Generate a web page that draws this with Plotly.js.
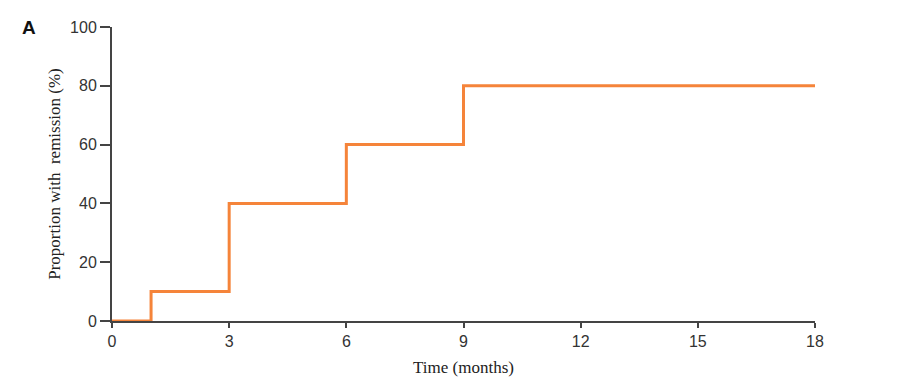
<!DOCTYPE html>
<html>
<head>
<meta charset="utf-8">
<script src="https://cdn.plot.ly/plotly-3.0.1.min.js"></script>
<style>html,body{margin:0;padding:0;background:#fff;}#chart{width:900px;height:377px;}</style>
</head>
<body>
<div id="chart"></div>
<script>
const timeMonths = [0, 1, 3, 6, 9, 18];
const remissionPct = [0, 10, 40, 60, 80, 80];
const xTicks = [0, 3, 6, 9, 12, 15, 18];
const yTicks = [0, 20, 40, 60, 80, 100];

const trace = {
  x: timeMonths,
  y: remissionPct,
  type: 'scatter',
  mode: 'lines',
  line: {shape: 'hv', color: '#F5843A', width: 3},
  hoverinfo: 'x+y'
};

const axisFont = {family: 'Arial, Liberation Sans, sans-serif', size: 16, color: '#333'};
const titleFont = {family: 'Liberation Serif, Times New Roman, serif', size: 17, color: '#222'};

const layout = {
  width: 900, height: 377,
  margin: {l: 112, r: 85, t: 27, b: 56},
  paper_bgcolor: '#fff', plot_bgcolor: '#fff',
  showlegend: false,
  xaxis: {
    range: [0, 18], tickvals: xTicks, ticktext: xTicks.map(String),
    showgrid: false, zeroline: false,
    showline: true, linecolor: '#444', linewidth: 2,
    ticks: 'outside', ticklen: 5, tickwidth: 2, tickcolor: '#444',
    tickfont: axisFont,
    title: {text: 'Time (months)', font: titleFont, standoff: 12}
  },
  yaxis: {
    range: [0, 100], tickvals: yTicks, ticktext: yTicks.map(String),
    showgrid: false, zeroline: false,
    showline: true, linecolor: '#444', linewidth: 2,
    ticks: 'outside', ticklen: 10, tickwidth: 2, tickcolor: '#444',
    tickfont: axisFont,
    title: {text: 'Proportion with  remission (%)', font: titleFont, standoff: 5}
  },
  annotations: [{
    text: '<b>A</b>', xref: 'paper', yref: 'paper',
    x: -0.131, y: 1.0, xanchor: 'left', yanchor: 'middle', showarrow: false,
    font: {family: 'Arial, Liberation Sans, sans-serif', size: 19, color: '#111'}
  }]
};

Plotly.newPlot('chart', [trace], layout, {displayModeBar: false, staticPlot: true});
</script>
</body>
</html>
